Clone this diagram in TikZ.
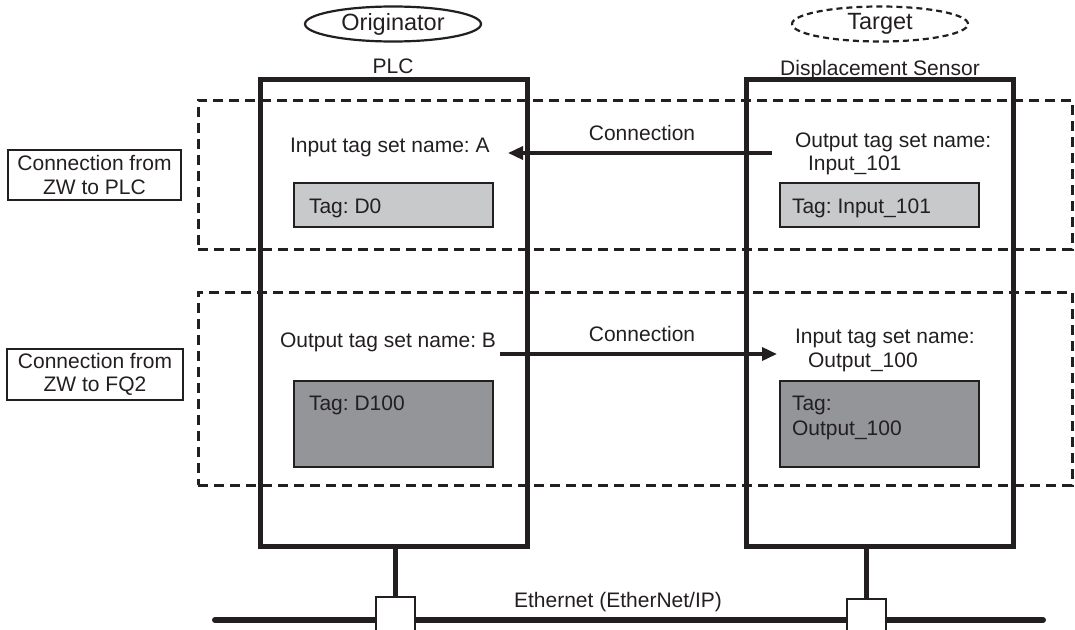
\documentclass[tikz,border=0pt]{standalone}
\usepackage{fontspec}
\setmainfont{Liberation Sans}
\usetikzlibrary{shapes.geometric,arrows.meta}
\definecolor{ink}{HTML}{231F20}
\definecolor{tagLight}{HTML}{C8C9CB}
\definecolor{tagDark}{HTML}{939598}
\frenchspacing
\begin{document}
\begin{tikzpicture}[x=1pt,y=-1pt,
  every node/.style={font=\fontsize{21}{23.5}\selectfont\frenchspacing, text=ink, inner sep=0pt, outer sep=0pt},
  device/.style={draw=ink, line width=5pt, anchor=north west},
  zone/.style={draw=ink, line width=3pt, dash pattern=on 10pt off 6pt, anchor=north west},
  tagbox/.style={draw=ink, line width=2.5pt, anchor=north west, minimum width=199pt},
  labelbox/.style={draw=ink, line width=2.2pt, align=center},
  role/.style={ellipse, draw=ink, line width=2.2pt, minimum width=176pt, minimum height=35pt, font=\fontsize{23.5}{26}\selectfont},
  txt/.style={anchor=base west},
  flow/.style={draw=ink, line width=3.5pt, -{Triangle[length=15pt,width=13pt]}},
  bus/.style={draw=ink, line width=6pt, line cap=round},
  tap/.style={draw=ink, line width=4.5pt},
  port/.style={draw=ink, fill=white, line width=2.2pt, anchor=north west, minimum width=39pt, minimum height=34pt}
]
\clip (0,0) rectangle (1075,629);
\useasboundingbox (0,0) rectangle (1075,629);

% zones
\node[zone, minimum width=874pt, minimum height=149pt] (zoneA) at (198,100) {};
\node[zone, minimum width=874pt, minimum height=193pt] (zoneB) at (198,292) {};

% devices
\node[device, minimum width=267pt, minimum height=467pt] (plc) at (260,79) {};
\node[device, minimum width=267pt, minimum height=467pt] (sensor) at (746,79) {};

% roles
\node[role] (orig) at (393,24) {Originator};
\node[role, dash pattern=on 6pt off 4pt] (targ) at (880,24) {Target};
\node[anchor=base] (plcname) at (393,73) {PLC};
\node[anchor=base] (sensname) at (880,75) {Displacement Sensor};

% left labels
\node[labelbox, minimum width=173pt, minimum height=50pt] (lblA) at (94.5,175) {Connection from\\ZW to PLC};
\node[labelbox, minimum width=176pt, minimum height=51pt] (lblB) at (95,374.5) {Connection from\\ZW to FQ2};

% upper connection
\node[txt] (inA) at (290,152) {Input tag set name: A};
\node[txt] (outA1) at (795,147) {Output tag set name:};
\node[txt] (outA2) at (808,170) {Input\_101};
\node[tagbox, fill=tagLight, minimum height=44pt] (tagD0) at (294,183) {};
\node[txt] (tagD0t) at (309,213) {Tag: D0};
\node[tagbox, fill=tagLight, minimum height=44pt] (tagI101) at (780,183) {};
\node[txt] (tagI101t) at (792,213) {Tag: Input\_101};
\coordinate (a1s) at (772,153);
\coordinate (a1e) at (508,153);
\draw[flow] (a1s) -- (a1e);
\node[anchor=base] (connA) at (642,140) {Connection};

% lower connection
\node[txt] (outB) at (280,347) {Output tag set name: B};
\node[txt] (inB1) at (795,343) {Input tag set name:};
\node[txt] (inB2) at (808,367) {Output\_100};
\node[tagbox, fill=tagDark, minimum height=86pt] (tagD100) at (294,381) {};
\node[txt] (tagD100t) at (309,410) {Tag: D100};
\node[tagbox, fill=tagDark, minimum height=86pt] (tagO100) at (780,381) {};
\node[txt] (tagO100t1) at (792,410) {Tag:};
\node[txt] (tagO100t2) at (792,435) {Output\_100};
\coordinate (a2s) at (500,354);
\coordinate (a2e) at (777,354);
\draw[flow] (a2s) -- (a2e);
\node[anchor=base] (connB) at (642,341) {Connection};

% ethernet
\coordinate (busL) at (215,620);
\coordinate (busR) at (1043,620);
\draw[bus] (busL) -- (busR);
\node[port] (port1) at (376,597) {};
\node[port] (port2) at (847,599) {};
\draw[tap] (port1.north) -- (port1.north |- plc.south);
\draw[tap] (port2.north) -- (port2.north |- sensor.south);
\node[anchor=base] (eth) at (618,607) {Ethernet (EtherNet/IP)};
\end{tikzpicture}
\end{document}
